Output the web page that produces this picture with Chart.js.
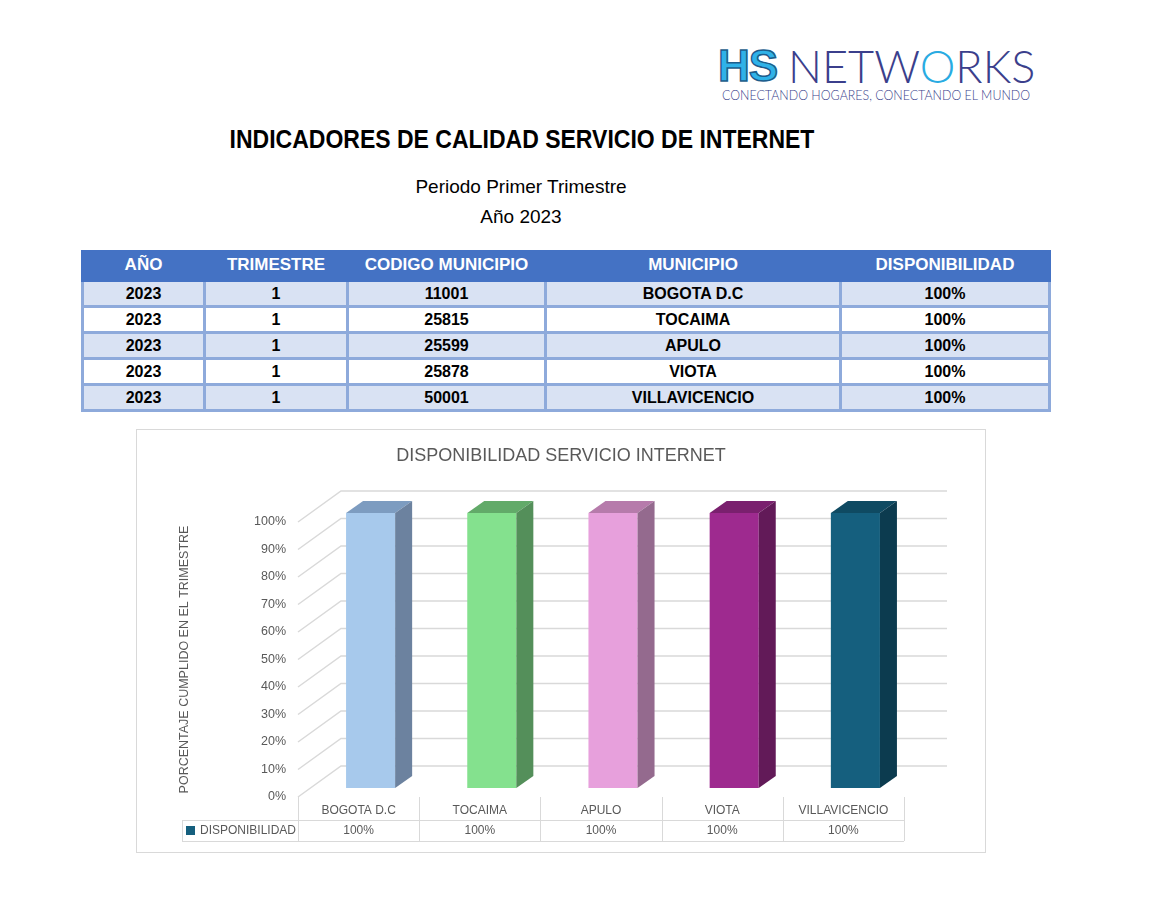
<!DOCTYPE html>
<html lang="es">
<head>
<meta charset="utf-8">
<title>Indicadores de calidad servicio de internet</title>
<script src="https://cdn.jsdelivr.net/npm/chart.js@4.4.1/dist/chart.umd.min.js"></script>
<style>
  html, body { margin: 0; padding: 0; background: #fff; }
  body { width: 1169px; height: 903px; position: relative; font-family: "Liberation Sans", Arial, sans-serif; }
  .abs { position: absolute; }
  .logo-hs { left: 718px; top: 38px; font: bold 44px/56px "Liberation Sans", Arial, sans-serif; color: #2fb2e8; -webkit-text-stroke: 1.5px #1d5d8c; letter-spacing: -1px; }
  .logo-net { left: 788px; top: 38px; font: 300 45px/56px Lato, "Open Sans", sans-serif; color: #3b3f8c; letter-spacing: 0px; }
  .logo-net span { color: #29abe2; }
  .logo-tag { left: 722px; top: 86px; font: 300 13.5px/18px Lato, "Open Sans", sans-serif; color: #3b3f8c; white-space: nowrap; transform: scaleX(0.92); transform-origin: left center; }
  .title { left: 0; width: 1044px; top: 124px; text-align: center; font: bold 25px/30px "Liberation Sans", Arial, sans-serif; color: #000; transform: scaleX(0.92); transform-origin: 522px center; }
  .sub { left: 0; width: 1042px; text-align: center; font: 19px/26px "Liberation Sans", Arial, sans-serif; color: #000; }
  table.ind { left: 81px; top: 250px; width: 967px; border-collapse: collapse; table-layout: fixed; }
  table.ind th { background: #4472c4; color: #fff; font: bold 17px/29px "Liberation Sans", Arial, sans-serif; height: 29px; padding: 0; border: 3px solid #4472c4; border-top: 0; }
  table.ind td { font: bold 16px/23px "Liberation Sans", Arial, sans-serif; color: #000; text-align: center; height: 23px; padding: 0; border: 3px solid #8eaadb; }
  table.ind tr.odd td { background: #d9e2f3; }
  table.ind tr.even td { background: #fff; }
  .chartbox { left: 136px; top: 429px; width: 848px; height: 422px; border: 1px solid #d9d9d9; }
  .chartbox canvas { display: block; }
</style>
</head>
<body>
<div class="abs logo-hs">HS</div>
<div class="abs logo-net">NETW<span>O</span>RKS</div>
<div class="abs logo-tag">CONECTANDO HOGARES, CONECTANDO EL MUNDO</div>

<div class="abs title">INDICADORES DE CALIDAD SERVICIO DE INTERNET</div>
<div class="abs sub" style="top:174px">Periodo Primer Trimestre</div>
<div class="abs sub" style="top:204px">Año 2023</div>

<table class="abs ind" id="tabla">
  <colgroup>
    <col style="width:122px"><col style="width:143px"><col style="width:198px"><col style="width:295px"><col style="width:209px">
  </colgroup>
  <thead><tr id="head"></tr></thead>
  <tbody id="body"></tbody>
</table>

<div class="abs chartbox"><canvas id="dispChart" width="848" height="422"></canvas></div>

<script>
// ===== Data =====
const headers = ['AÑO', 'TRIMESTRE', 'CODIGO MUNICIPIO', 'MUNICIPIO', 'DISPONIBILIDAD'];
const years = [2023, 2023, 2023, 2023, 2023];
const quarters = [1, 1, 1, 1, 1];
const codes = ['11001', '25815', '25599', '25878', '50001'];
const municipios = ['BOGOTA D.C', 'TOCAIMA', 'APULO', 'VIOTA', 'VILLAVICENCIO'];
const disponibilidad = [100, 100, 100, 100, 100];
const seriesName = 'DISPONIBILIDAD';
const chartTitle = 'DISPONIBILIDAD SERVICIO INTERNET';

// ===== Colors per bar (front / top / side) =====
const frontColors = ['#a7c9ec', '#84e18e', '#e7a0dc', '#9e2a8f', '#155f7e'];
const topColors   = ['#7d9cc0', '#62aa69', '#b67bab', '#7a206e', '#0f4a62'];
const sideColors  = ['#6c829f', '#548f5a', '#946a8e', '#621a58', '#0c3b4f'];

// ===== Table =====
document.getElementById('head').innerHTML = headers.map(h => '<th>' + h + '</th>').join('');
document.getElementById('body').innerHTML = municipios.map((m, i) =>
  '<tr class="' + (i % 2 ? 'even' : 'odd') + '">' +
  '<td>' + years[i] + '</td><td>' + quarters[i] + '</td><td>' + codes[i] + '</td>' +
  '<td>' + m + '</td><td>' + disponibilidad[i] + '%</td></tr>'
).join('');

// ===== 3D look =====
const DX = 12, DY = -9;   // bars sit a bit inside the depth
const BD = 17, BH = -12;  // bar depth
const WX = 43, WY = -31;  // back wall offset
const GRID = '#d9d9d9';
const TXT = '#595959';
const FONT = '"Liberation Sans", Arial, sans-serif';

const threeD = {
  id: 'threeD',
  beforeDatasetsDraw(chart) {
    const { ctx, chartArea: a, scales: { y } } = chart;
    ctx.save();
    ctx.strokeStyle = GRID;
    ctx.lineWidth = 1.5;
    y.ticks.forEach(t => {
      const py = y.getPixelForValue(t.value);
      ctx.beginPath();
      ctx.moveTo(a.left, py);
      ctx.lineTo(a.left + WX, py + WY);
      ctx.lineTo(a.right + WX, py + WY);
      ctx.stroke();
    });
    ctx.restore();
  },
  beforeDatasetDraw(chart) {
    chart.ctx.save();
    chart.ctx.translate(DX, DY);
  },
  afterDatasetDraw(chart, args) {
    const ctx = chart.ctx;
    ctx.restore();
    args.meta.data.forEach((bar, i) => {
      const p = bar.getProps(['x', 'y', 'base', 'width'], true);
      const l = p.x - p.width / 2 + DX, r = p.x + p.width / 2 + DX;
      const t = p.y + DY, b = p.base + DY;
      ctx.fillStyle = topColors[i];
      ctx.beginPath();
      ctx.moveTo(l, t); ctx.lineTo(l + BD, t + BH); ctx.lineTo(r + BD, t + BH); ctx.lineTo(r, t);
      ctx.closePath(); ctx.fill();
      ctx.fillStyle = sideColors[i];
      ctx.beginPath();
      ctx.moveTo(r, t); ctx.lineTo(r + BD, t + BH); ctx.lineTo(r + BD, b + BH); ctx.lineTo(r, b);
      ctx.closePath(); ctx.fill();
    });
  },
  afterDraw(chart) {
    const { ctx, chartArea: a, scales: { x } } = chart;
    ctx.save();
    // chart title, centered on the whole box
    ctx.fillStyle = TXT;
    ctx.font = '18px ' + FONT;
    ctx.textAlign = 'center';
    ctx.textBaseline = 'middle';
    ctx.fillText(chartTitle, chart.width / 2, 26);

    // data table under the plot
    const half = (x.getPixelForValue(1) - x.getPixelForValue(0)) / 2;
    const top = a.bottom, mid = a.bottom + 23, bot = a.bottom + 44, keyLeft = 45;
    ctx.strokeStyle = GRID;
    ctx.lineWidth = 1;
    ctx.beginPath();
    for (let i = 0; i <= municipios.length; i++) {
      const px = Math.round(x.getPixelForValue(i) - half) + 0.5;
      ctx.moveTo(px, top); ctx.lineTo(px, bot);
    }
    ctx.moveTo(keyLeft + 0.5, mid); ctx.lineTo(keyLeft + 0.5, bot);
    ctx.moveTo(keyLeft, mid + 0.5); ctx.lineTo(a.right, mid + 0.5);
    ctx.moveTo(keyLeft, bot + 0.5); ctx.lineTo(a.right, bot + 0.5);
    ctx.stroke();

    ctx.font = '12px ' + FONT;
    municipios.forEach((m, i) => {
      const px = x.getPixelForValue(i);
      ctx.fillText(m, px, top + 14);
      ctx.fillText(disponibilidad[i] + '%', px, mid + 11);
    });
    ctx.fillStyle = frontColors[4];
    ctx.fillRect(keyLeft + 4, mid + 6, 9, 9);
    ctx.fillStyle = TXT;
    ctx.textAlign = 'left';
    ctx.fillText(seriesName, keyLeft + 18, mid + 11);
    ctx.restore();
  }
};

// ===== Chart =====
new Chart(document.getElementById('dispChart'), {
  type: 'bar',
  data: {
    labels: municipios,
    datasets: [{
      label: seriesName,
      data: disponibilidad,
      backgroundColor: frontColors,
      borderWidth: 0,
      categoryPercentage: 1,
      barPercentage: 0.405,
      clip: false
    }]
  },
  options: {
    responsive: false,
    animation: false,
    layout: { padding: { top: 92, right: 81, bottom: 55, left: 0 } },
    plugins: {
      legend: { display: false },
      tooltip: { enabled: false },
      title: { display: false }
    },
    scales: {
      x: { display: false },
      y: {
        min: 0, max: 100,
        ticks: {
          stepSize: 10,
          padding: 12,
          color: TXT,
          font: { family: FONT, size: 12.5 },
          callback: v => v + '%'
        },
        grid: { display: false, drawTicks: false },
        border: { display: false },
        title: {
          display: true,
          text: 'PORCENTAJE CUMPLIDO EN EL TRIMESTRE',
          color: TXT,
          font: { family: FONT, size: 12.5 },
          padding: { top: 40, bottom: 0 }
        },
        afterFit: s => { s.width = 161; }
      }
    }
  },
  plugins: [threeD]
});
</script>
</body>
</html>
